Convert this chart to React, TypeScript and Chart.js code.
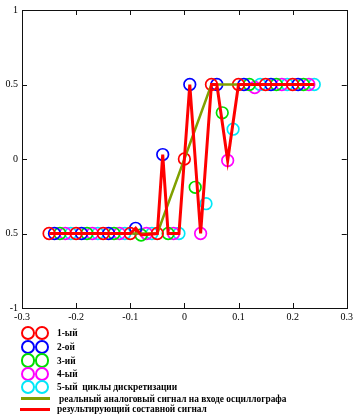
import React, { useEffect, useRef } from "react";
import { Chart, registerables } from "chart.js";

Chart.register(...registerables);

// 1-st sampling cycle (red)
const cycle1X = [-0.25, -0.2, -0.15, -0.1, -0.05, 0, 0.05, 0.1, 0.15, 0.2];
const cycle1Y = [-0.5, -0.5, -0.5, -0.5, -0.5, 0, 0.5, 0.5, 0.5, 0.5];
// 2-nd cycle (blue)
const cycle2X = [-0.24, -0.19, -0.14, -0.09, -0.04, 0.01, 0.06, 0.11, 0.16, 0.21];
const cycle2Y = [-0.5, -0.5, -0.5, -0.465, 0.03, 0.5, 0.5, 0.5, 0.5, 0.5];
// 3-rd cycle (green)
const cycle3X = [-0.23, -0.18, -0.13, -0.08, -0.03, 0.02, 0.07, 0.12, 0.17, 0.22];
const cycle3Y = [-0.5, -0.5, -0.5, -0.51, -0.5, -0.19, 0.31, 0.5, 0.5, 0.5];
// 4-th cycle (magenta)
const cycle4X = [-0.22, -0.17, -0.12, -0.07, -0.02, 0.03, 0.08, 0.13, 0.18, 0.23];
const cycle4Y = [-0.5, -0.5, -0.5, -0.5, -0.5, -0.5, -0.01, 0.48, 0.5, 0.5];
// 5-th cycle (cyan)
const cycle5X = [-0.21, -0.16, -0.11, -0.06, -0.01, 0.04, 0.09, 0.14, 0.19, 0.24];
const cycle5Y = [-0.5, -0.5, -0.5, -0.5, -0.5, -0.3, 0.2, 0.5, 0.5, 0.5];

// real analog signal at oscilloscope input
const analogX = [-0.25, -0.05, 0.05, 0.24];
const analogY = [-0.5, -0.5, 0.5, 0.5];

// resulting composite signal
const compositeX = [-0.25, -0.1, -0.09, -0.08, -0.05, -0.04, -0.03, -0.01, 0, 0.01, 0.03, 0.05, 0.06, 0.08, 0.1, 0.24];
const compositeY = [-0.5, -0.5, -0.465, -0.51, -0.5, 0.03, -0.5, -0.5, 0, 0.5, -0.5, 0.5, 0.5, -0.01, 0.5, 0.5];

const xTicks = [-0.3, -0.2, -0.1, 0, 0.1, 0.2, 0.3];
const yTicks = [-1, -0.5, 0, 0.5, 1];
const yTickLabels = ["-1", "0.5", "0", "0.5", "1"];

const legendCycles = [
  { label: "1-ый", color: "#ff0000" },
  { label: "2-ой", color: "#0000ff" },
  { label: "3-ий", color: "#00dd00" },
  { label: "4-ый", color: "#ff00ff" },
  { label: "5-ый\u00a0\u00a0циклы дискретизации", color: "#00e8f8" },
];
const analogLabel = "реальный аналоговый сигнал на входе осциллографа";
const compositeLabel = "результирующий составной сигнал";

const toPts = (xs: number[], ys: number[]) => xs.map((x, i) => ({ x, y: ys[i] }));

const frameTicks = {
  id: "frameTicks",
  afterDatasetsDraw(chart: any) {
    const { ctx, chartArea: a, scales } = chart;
    ctx.save();
    ctx.strokeStyle = "#111";
    ctx.lineWidth = 1;
    ctx.strokeRect(Math.round(a.left) + 0.5, Math.round(a.top) + 0.5, Math.round(a.right - a.left), Math.round(a.bottom - a.top));
    ctx.beginPath();
    for (const v of xTicks) {
      const px = Math.round(scales.x.getPixelForValue(v)) + 0.5;
      ctx.moveTo(px, a.top);
      ctx.lineTo(px, a.top + 5);
      ctx.moveTo(px, a.bottom);
      ctx.lineTo(px, a.bottom - 5);
    }
    for (const v of yTicks) {
      const py = Math.round(scales.y.getPixelForValue(v)) + 0.5;
      ctx.moveTo(a.left, py);
      ctx.lineTo(a.left + 5, py);
      ctx.moveTo(a.right, py);
      ctx.lineTo(a.right - 5, py);
    }
    ctx.stroke();
    ctx.restore();
  },
};

export default function App() {
  const ref = useRef<HTMLCanvasElement | null>(null);

  useEffect(() => {
    if (!ref.current) return;
    const circle = (label: string, xs: number[], ys: number[], color: string) => ({
      label,
      data: toPts(xs, ys),
      showLine: false,
      pointStyle: "circle",
      pointRadius: 5.8,
      pointBorderWidth: 1.7,
      pointBorderColor: color,
      pointBackgroundColor: "rgba(0,0,0,0)",
      borderColor: color,
    });
    const chart = new Chart(ref.current, {
      type: "scatter",
      data: {
        datasets: [
          {
            label: compositeLabel,
            data: toPts(compositeX, compositeY),
            showLine: true,
            borderColor: "#ff0000",
            borderWidth: 3,
            pointRadius: 0,
          } as any,
          {
            label: analogLabel,
            data: toPts(analogX, analogY),
            showLine: true,
            borderColor: "#80a000",
            borderWidth: 2.5,
            pointRadius: 0,
          },
          circle(legendCycles[0].label, cycle1X, cycle1Y, legendCycles[0].color),
          circle(legendCycles[1].label, cycle2X, cycle2Y, legendCycles[1].color),
          circle(legendCycles[2].label, cycle3X, cycle3Y, legendCycles[2].color),
          circle(legendCycles[3].label, cycle4X, cycle4Y, legendCycles[3].color),
          circle(legendCycles[4].label, cycle5X, cycle5Y, legendCycles[4].color),
        ],
      },
      options: {
        animation: false,
        responsive: false,
        maintainAspectRatio: false,
        layout: { padding: { left: 0, right: 9, top: 5, bottom: 98 } },
        plugins: { legend: { display: false }, tooltip: { enabled: false } },
        scales: {
          x: {
            type: "linear",
            min: -0.3,
            max: 0.3,
            afterFit: (s: any) => { s.height = 14; },
            afterBuildTicks: (s: any) => { s.ticks = xTicks.map((v) => ({ value: v })); },
            grid: { display: false, drawTicks: false },
            border: { display: false },
            ticks: {
              padding: 3,
              color: "#000",
              font: { family: "Liberation Serif", size: 10 },
              maxRotation: 0,
              autoSkip: false,
              callback: (v: any) => String(Math.round(Number(v) * 10) / 10),
            },
          },
          y: {
            type: "linear",
            min: -1,
            max: 1,
            afterFit: (s: any) => { s.width = 22; },
            afterBuildTicks: (s: any) => { s.ticks = yTicks.map((v) => ({ value: v })); },
            grid: { display: false, drawTicks: false },
            border: { display: false },
            ticks: {
              padding: 4,
              color: "#000",
              font: { family: "Liberation Serif", size: 10 },
              autoSkip: false,
              callback: (v: any) => {
                const i = yTicks.indexOf(Math.round(Number(v) * 10) / 10);
                return i >= 0 ? yTickLabels[i] : "";
              },
            },
          },
        },
      },
      plugins: [frameTicks],
    } as any);
    return () => chart.destroy();
  }, []);

  const rowY = [333.3, 346.7, 360.5, 374, 387.3];
  const textStyle: React.CSSProperties = {
    position: "absolute",
    fontFamily: "'Liberation Serif', serif",
    fontWeight: "bold",
    fontSize: 9.4,
    lineHeight: "12px",
    color: "#000",
    whiteSpace: "nowrap",
  };

  return (
    <div style={{ position: "absolute", left: 0, top: 0, width: 356, height: 420, background: "#fff" }}>
      <canvas ref={ref} width={356} height={420} style={{ position: "absolute", left: 0, top: 0 }} />
      {legendCycles.map((c, i) => (
        <React.Fragment key={c.label}>
          {[27.8, 42.2].map((cx) => (
            <div
              key={cx}
              style={{
                position: "absolute",
                left: cx - 7.2,
                top: rowY[i] - 7.2,
                width: 14.4,
                height: 14.4,
                boxSizing: "border-box",
                border: `2px solid ${c.color}`,
                borderRadius: "50%",
              }}
            />
          ))}
          <div style={{ ...textStyle, left: 57, top: rowY[i] - 6 }}>{c.label}</div>
        </React.Fragment>
      ))}
      <div style={{ position: "absolute", left: 21, top: 397.3, width: 29, height: 3, background: "#80a000" }} />
      <div style={{ ...textStyle, left: 59, top: 393 }}>{analogLabel}</div>
      <div style={{ position: "absolute", left: 20, top: 407.5, width: 30, height: 3, background: "#ff0000" }} />
      <div style={{ ...textStyle, left: 57, top: 403 }}>{compositeLabel}</div>
    </div>
  );
}
